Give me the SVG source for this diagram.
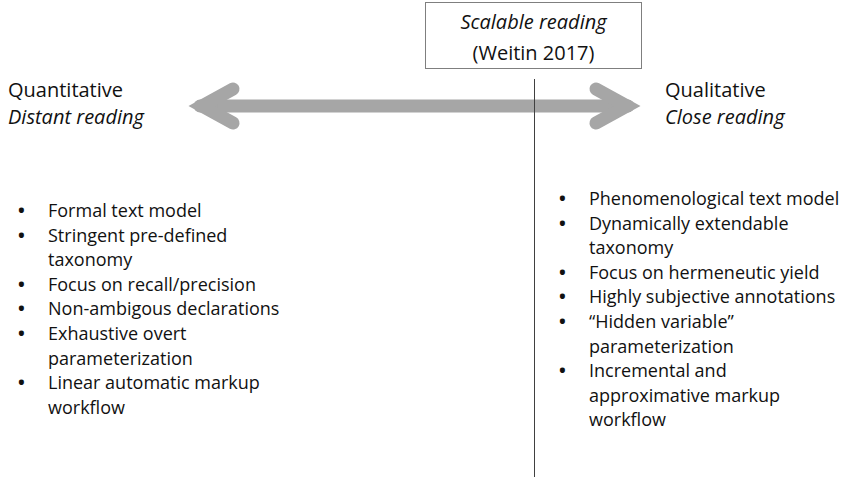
<svg xmlns="http://www.w3.org/2000/svg" width="841" height="481" viewBox="0 0 841 481">
<style>
text{font-family:"Open Sans","Noto Sans","Liberation Sans",sans-serif;fill:#111111}
.h{font-size:20px}
.it{font-style:italic}
.li{font-size:18px}
.b{font-size:18px;font-weight:bold}
.arrow{fill:none;stroke:#a6a6a6;stroke-width:13;stroke-linecap:round;stroke-linejoin:miter}
</style>
<rect width="841" height="481" fill="#ffffff"/>
<g id="connectors">
<line class="arrow" x1="200" y1="106" x2="628" y2="106" stroke-linecap="butt"/>
<polyline class="arrow" points="233,89 202,106 233,123"/>
<polyline class="arrow" points="596,89 627,106 596,123"/>
<line x1="534.5" y1="79" x2="534.5" y2="477" stroke="#404040" stroke-width="1"/>
</g>
<g id="scalable">
<rect x="425.5" y="2.5" width="216" height="66" fill="#ffffff" stroke="#7f7f7f" stroke-width="1"/>
<text class="h it" x="533.5" y="29" text-anchor="middle">Scalable reading</text>
<text class="h" x="533.5" y="60" text-anchor="middle">(Weitin 2017)</text>
</g>
<g id="quantitative">
<text class="h" x="8" y="97">Quantitative</text>
<text class="h it" x="8" y="124">Distant reading</text>
</g>
<g id="qualitative">
<text class="h" x="665" y="97">Qualitative</text>
<text class="h it" x="665" y="124">Close reading</text>
</g>
<g id="left-list">
<text class="b" x="18" y="217">•</text><text class="li" x="48" y="217">Formal text model</text>
<text class="b" x="18" y="241.6">•</text><text class="li" x="48" y="241.6">Stringent pre-defined</text>
<text class="li" x="48" y="266.2">taxonomy</text>
<text class="b" x="18" y="290.8">•</text><text class="li" x="48" y="290.8">Focus on recall/precision</text>
<text class="b" x="18" y="315.4">•</text><text class="li" x="48" y="315.4">Non-ambigous declarations</text>
<text class="b" x="18" y="340">•</text><text class="li" x="48" y="340">Exhaustive overt</text>
<text class="li" x="48" y="364.6">parameterization</text>
<text class="b" x="18" y="389.2">•</text><text class="li" x="48" y="389.2">Linear automatic markup</text>
<text class="li" x="48" y="413.8">workflow</text>
</g>
<g id="right-list">
<text class="b" x="559" y="205">•</text><text class="li" x="589" y="205">Phenomenological text model</text>
<text class="b" x="559" y="229.6">•</text><text class="li" x="589" y="229.6">Dynamically extendable</text>
<text class="li" x="589" y="254.2">taxonomy</text>
<text class="b" x="559" y="278.8">•</text><text class="li" x="589" y="278.8">Focus on hermeneutic yield</text>
<text class="b" x="559" y="303.4">•</text><text class="li" x="589" y="303.4">Highly subjective annotations</text>
<text class="b" x="559" y="328">•</text><text class="li" x="589" y="328">“Hidden variable”</text>
<text class="li" x="589" y="352.6">parameterization</text>
<text class="b" x="559" y="377.2">•</text><text class="li" x="589" y="377.2">Incremental and</text>
<text class="li" x="589" y="401.8">approximative markup</text>
<text class="li" x="589" y="426.4">workflow</text>
</g>
</svg>
